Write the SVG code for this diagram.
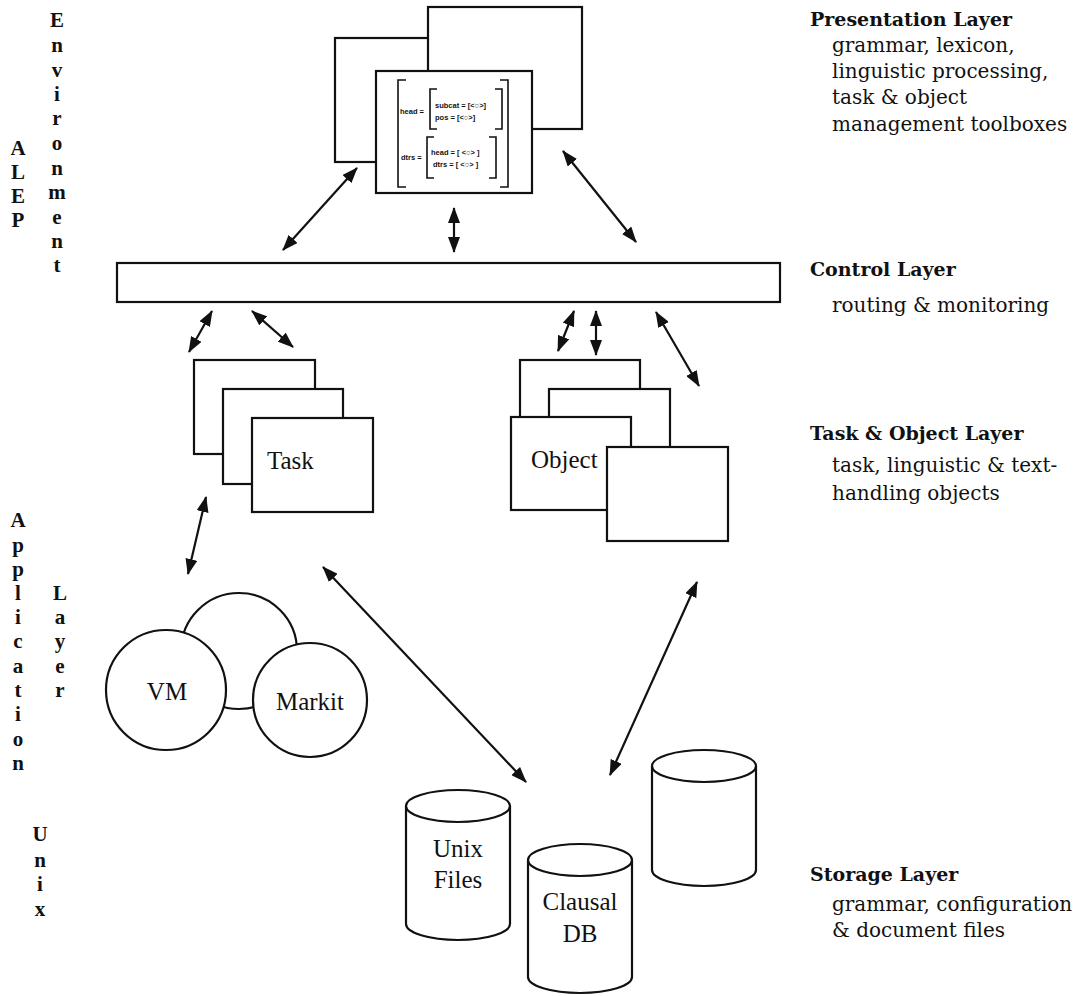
<svg xmlns="http://www.w3.org/2000/svg" width="1084" height="996" viewBox="0 0 1084 996">
  <defs>
    <marker id="head" viewBox="0 0 16 12" refX="15" refY="6" markerWidth="16" markerHeight="12" markerUnits="userSpaceOnUse" orient="auto-start-reverse">
      <path d="M0,0 L16,6 L0,12 Z" fill="#111"/>
    </marker>
    <style>
      .box { fill: #fff; stroke: #111; stroke-width: 2.2; }
      .thin { fill: none; stroke: #111; stroke-width: 1.6; }
      .conn { stroke: #111; stroke-width: 2.2; fill: none; marker-start: url(#head); marker-end: url(#head); }
      .lbl { font-family: "Liberation Serif", "Times New Roman", serif; font-size: 25px; fill: #111; }
      .vert { font-family: "Liberation Serif", "Times New Roman", serif; font-size: 21px; font-weight: bold; fill: #111; text-anchor: middle; }
      .title { font-family: "DejaVu Serif", serif; font-size: 19px; font-weight: bold; fill: #111; }
      .desc { font-family: "DejaVu Serif", serif; font-size: 20px; fill: #111; }
      .fs { font-family: "Liberation Sans", Arial, sans-serif; font-size: 7.5px; font-weight: bold; fill: #111; }
    </style>
  </defs>
  <rect width="1084" height="996" fill="#fff"/>

  <!-- side captions, one letter per line -->
  <g id="side-labels">
    <text class="vert"><tspan x="18" y="155">A</tspan><tspan x="18" y="179">L</tspan><tspan x="18" y="203">E</tspan><tspan x="18" y="227">P</tspan></text>
    <text class="vert"><tspan x="57" y="27">E</tspan><tspan x="57" y="52">n</tspan><tspan x="57" y="77">v</tspan><tspan x="57" y="101">i</tspan><tspan x="57" y="125">r</tspan><tspan x="57" y="150">o</tspan><tspan x="57" y="175">n</tspan><tspan x="57" y="199">m</tspan><tspan x="57" y="224">e</tspan><tspan x="57" y="248">n</tspan><tspan x="57" y="272">t</tspan></text>
    <text class="vert"><tspan x="18" y="527">A</tspan><tspan x="18" y="552">p</tspan><tspan x="18" y="576">p</tspan><tspan x="18" y="600">l</tspan><tspan x="18" y="624">i</tspan><tspan x="18" y="648">c</tspan><tspan x="18" y="673">a</tspan><tspan x="18" y="697">t</tspan><tspan x="18" y="721">i</tspan><tspan x="18" y="746">o</tspan><tspan x="18" y="770">n</tspan></text>
    <text class="vert"><tspan x="60" y="600">L</tspan><tspan x="60" y="624">a</tspan><tspan x="60" y="648">y</tspan><tspan x="60" y="673">e</tspan><tspan x="60" y="697">r</tspan></text>
    <text class="vert"><tspan x="40" y="841">U</tspan><tspan x="40" y="867">n</tspan><tspan x="40" y="891">i</tspan><tspan x="40" y="916">x</tspan></text>
  </g>

  <g id="layer-notes">
    <text class="title" x="810" y="26">Presentation Layer</text>
    <text class="desc" x="832" y="52">grammar, lexicon,</text>
    <text class="desc" x="832" y="78">linguistic processing,</text>
    <text class="desc" x="832" y="104">task &amp; object</text>
    <text class="desc" x="832" y="131">management toolboxes</text>
    <text class="title" x="810" y="276">Control Layer</text>
    <text class="desc" x="832" y="312">routing &amp; monitoring</text>
    <text class="title" x="810" y="440">Task &amp; Object Layer</text>
    <text class="desc" x="832" y="472">task, linguistic &amp; text-</text>
    <text class="desc" x="832" y="500">handling objects</text>
    <text class="title" x="810" y="881">Storage Layer</text>
    <text class="desc" x="832" y="911">grammar, configuration</text>
    <text class="desc" x="832" y="937">&amp; document files</text>
  </g>

  <!-- presentation windows -->
  <g id="presentation">
    <rect class="box" x="335" y="38" width="95" height="124"/>
    <rect class="box" x="428" y="7" width="154" height="122"/>
    <rect class="box" x="376" y="71" width="156" height="122"/>
    <g id="feature-structure">
      <path class="thin" d="M406,80 H398 V187 H406 M500,80 H508 V187 H500"/>
      <path class="thin" d="M437,89 H430 V129 H437 M495,89 H502 V129 H495"/>
      <path class="thin" d="M434,137 H427 V178 H434 M489,137 H496 V178 H489"/>
      <text class="fs" x="400" y="114">head =</text>
      <text class="fs" x="435" y="108">subcat = [&lt;○&gt;]</text>
      <text class="fs" x="435" y="120">pos = [&lt;○&gt;]</text>
      <text class="fs" x="401" y="160">dtrs =</text>
      <text class="fs" x="431" y="155">head = [ &lt;○&gt; ]</text>
      <text class="fs" x="433" y="167">dtrs = [ &lt;○&gt; ]</text>
    </g>
  </g>

  <g id="control-bar">
    <rect class="box" x="117" y="263" width="663" height="39"/>
  </g>

  <g id="task-stack">
    <rect class="box" x="194" y="360" width="121" height="94"/>
    <rect class="box" x="223" y="389" width="120" height="95"/>
    <rect class="box" x="252" y="418" width="121" height="94"/>
    <text class="lbl" x="267" y="469">Task</text>
  </g>

  <g id="object-stack">
    <rect class="box" x="520" y="360" width="120" height="90"/>
    <rect class="box" x="549" y="389" width="121" height="90"/>
    <rect class="box" x="511" y="417" width="120" height="93"/>
    <rect class="box" x="607" y="447" width="121" height="94"/>
    <text class="lbl" x="531" y="468">Object</text>
  </g>

  <g id="tools">
    <circle class="box" cx="239" cy="651" r="58"/>
    <circle class="box" cx="166" cy="690" r="60"/>
    <circle class="box" cx="310" cy="700" r="57"/>
    <text class="lbl" x="167" y="700" text-anchor="middle">VM</text>
    <text class="lbl" x="310" y="710" text-anchor="middle">Markit</text>
  </g>

  <g id="unix-files">
    <path class="box" d="M406,806 V924 A52,16 0 0 0 510,924 V806"/>
    <ellipse class="box" cx="458" cy="806" rx="52" ry="16"/>
    <text class="lbl" x="458" y="857" text-anchor="middle">Unix</text>
    <text class="lbl" x="458" y="888" text-anchor="middle">Files</text>
  </g>
  <g id="clausal-db">
    <path class="box" d="M528,860 V977 A52,16 0 0 0 632,977 V860"/>
    <ellipse class="box" cx="580" cy="860" rx="52" ry="16"/>
    <text class="lbl" x="580" y="910" text-anchor="middle">Clausal</text>
    <text class="lbl" x="580" y="942" text-anchor="middle">DB</text>
  </g>
  <g id="store">
    <path class="box" d="M652,766 V870 A52,16 0 0 0 756,870 V766"/>
    <ellipse class="box" cx="704" cy="766" rx="52" ry="16"/>
  </g>

  <g id="connectors">
    <line class="conn" x1="283" y1="250" x2="357" y2="168"/>
    <line class="conn" x1="454" y1="252" x2="454" y2="208"/>
    <line class="conn" x1="636" y1="242" x2="563" y2="151"/>
    <line class="conn" x1="212" y1="311" x2="189" y2="352"/>
    <line class="conn" x1="252" y1="311" x2="293" y2="347"/>
    <line class="conn" x1="574" y1="311" x2="558" y2="351"/>
    <line class="conn" x1="596" y1="311" x2="596" y2="355"/>
    <line class="conn" x1="656" y1="312" x2="699" y2="386"/>
    <line class="conn" x1="188" y1="574" x2="206" y2="497"/>
    <line class="conn" x1="323" y1="567" x2="526" y2="782"/>
    <line class="conn" x1="697" y1="582" x2="610" y2="775"/>
  </g>
</svg>
